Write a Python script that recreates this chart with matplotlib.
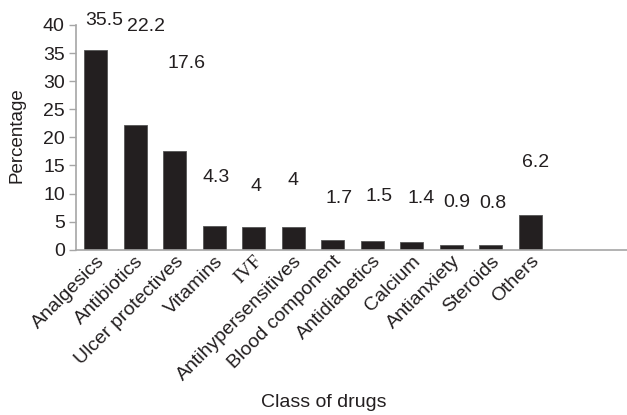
import matplotlib
matplotlib.use("Agg")
import matplotlib.pyplot as plt

plt.rcParams["font.family"] = ["Liberation Sans", "DejaVu Sans"]

categories = ["Analgesics", "Antibiotics", "Ulcer protectives", "Vitamins", "IVF",
              "Antihypersensitives", "Blood component", "Antidiabetics", "Calcium",
              "Antianxiety", "Steroids", "Others"]
percentages = [35.5, 22.2, 17.6, 4.3, 4, 4, 1.7, 1.5, 1.4, 0.9, 0.8, 6.2]
value_labels = ["35.5", "22.2", "17.6", "4.3", "4", "4", "1.7", "1.5", "1.4", "0.9", "0.8", "6.2"]

# data-label placement (x shift in category units, height in axis units)
label_dx = [0.22, 0.28, 0.3, 0.05, 0.05, 0.0, 0.15, 0.17, 0.25, 0.15, 0.05, 0.13]
label_y = [40.7, 39.8, 33.2, 12.8, 11.2, 12.3, 9.1, 9.4, 9.2, 8.4, 8.2, 15.6]

fig = plt.figure(figsize=(6.27, 4.15), dpi=100)
ax = fig.add_axes([0.121, 0.398, 0.879, 0.542])

x = list(range(len(categories)))
ax.bar(x, percentages, width=0.58, color="#231f20", edgecolor="#555555", linewidth=0.6, zorder=2)

for xi, dx, ly, txt in zip(x, label_dx, label_y, value_labels):
    ax.text(xi + dx, ly, txt, ha="center", va="center", fontsize=14, color="#231f20")

ax.set_xlim(-0.5, 13.45)
ax.set_ylim(0, 40)
ax.set_yticks(range(0, 45, 5))
ax.tick_params(axis="y", labelsize=14, length=5, width=1, color="#a6a6a6", labelcolor="#231f20", pad=3)
ax.set_xticks(x)
ax.set_xticklabels(categories, rotation=45, ha="right", va="top", rotation_mode="anchor",
                   fontsize=14, color="#231f20")
for lbl in ax.get_xticklabels():
    if lbl.get_text() == "IVF":
        lbl.set_family(["Liberation Serif"])
ax.tick_params(axis="x", length=0, pad=2)

for side in ("top", "right"):
    ax.spines[side].set_visible(False)
for side in ("left", "bottom"):
    ax.spines[side].set_color("#a6a6a6")
    ax.spines[side].set_linewidth(1.2)

fig.text(0.027, 0.675, "Percentage", rotation=90, ha="center", va="center", fontsize=13.5, color="#231f20")
fig.text(0.516, 0.03, "Class of drugs", ha="center", va="center", fontsize=14, color="#231f20")

fig.savefig("out.png", dpi=100)
